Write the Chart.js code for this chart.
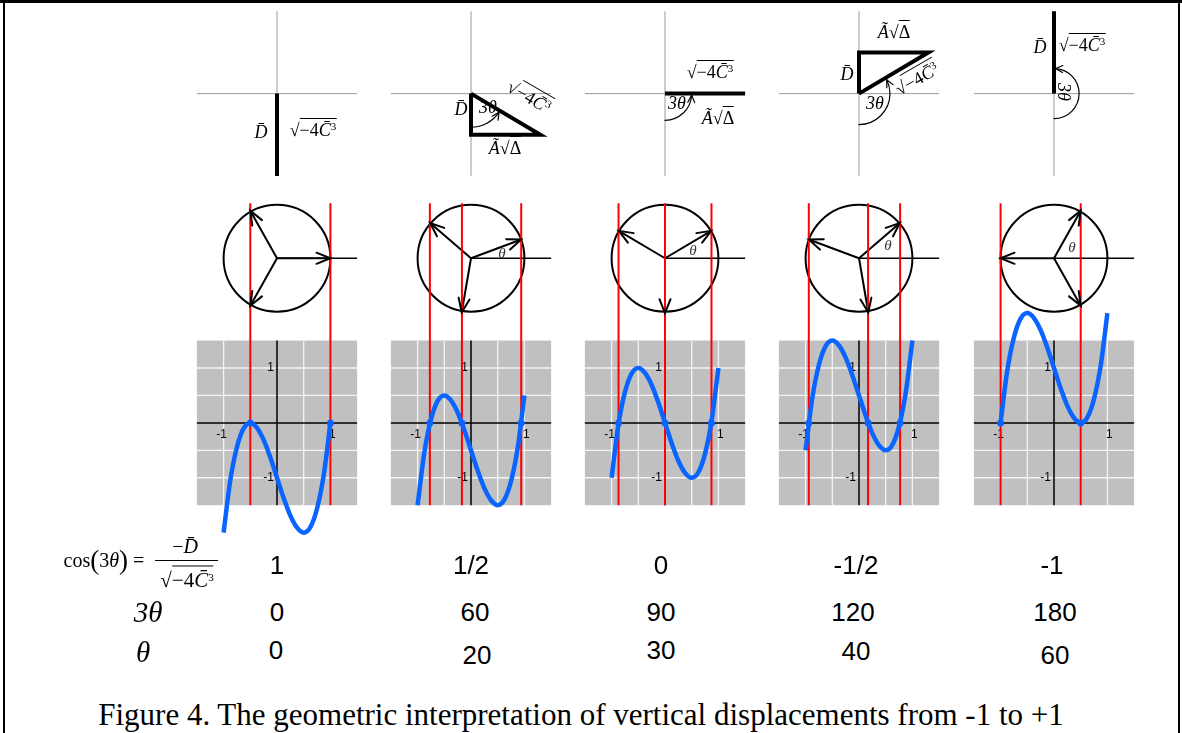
<!DOCTYPE html>
<html>
<head>
<meta charset="utf-8">
<script src="https://cdn.jsdelivr.net/npm/chart.js@4.4.1/dist/chart.umd.min.js"></script>
<style>
    html, body { margin: 0; padding: 0; background: #fff; }
    #fig { position: relative; width: 1182px; height: 733px; overflow: hidden; background: #fff; }
    #fig canvas { position: absolute; }
    .edge { position: absolute; background: #000; }
    .t { position: absolute; white-space: nowrap; line-height: 1; transform: translate(-50%, -50%); color: #000; }
    .m { font-family: 'Liberation Serif', 'Times New Roman', serif; font-size: 18px; }
    .rad { border-top: 1px solid #000; padding-top: 1px; }
    .sup { font-size: 11px; vertical-align: 6px; }
    .par { font-size: 27px; vertical-align: -2px; }
    .num { font-family: 'Liberation Sans', Arial, sans-serif; font-size: 26px; }
    .th { font-family: 'Liberation Serif', 'Times New Roman', serif; font-style: italic; font-size: 15px; color: #333; }
    .big { font-family: 'Liberation Serif', 'Times New Roman', serif; font-style: italic; font-size: 29px; }
    .cap { font-family: 'Liberation Serif', 'Times New Roman', serif; font-size: 31px; }
</style>
</head>
<body>
<div id="fig">
    <div class="edge" style="left:0;top:0;width:1182px;height:3px"></div>
    <div class="edge" style="left:3px;top:0;width:2px;height:733px"></div>
    <div class="edge" style="left:1178px;top:0;width:2px;height:733px"></div>
</div>
<script>
// values shown under each column
const cosLabels = ['1', '1/2', '0', '-1/2', '-1'];
const threeThetaDeg = [0, 60, 90, 120, 180];
const thetaDeg = [0, 20, 30, 40, 60];

// roots of each cubic (where the red lines and blue dots sit)
const roots1 = [-0.5, 1];
const roots2 = [-0.77, -0.17, 0.94];
const roots3 = [-0.87, 0, 0.87];
const roots4 = [-0.94, 0.17, 0.77];
const roots5 = [-1, 0.5];

const curveX = [-1, -0.875, -0.75, -0.625, -0.5, -0.375, -0.25, -0.125, 0, 0.125, 0.25, 0.375, 0.5, 0.625, 0.75, 0.875, 1];
const curve1 = [-2, -1.05, -0.44, -0.1, 0, -0.09, -0.31, -0.63, -1, -1.37, -1.69, -1.91, -2, -1.9, -1.56, -0.95, 0];
const curve2 = [-1.5, -0.55, 0.06, 0.4, 0.5, 0.41, 0.19, -0.13, -0.5, -0.87, -1.19, -1.41, -1.5, -1.4, -1.06, -0.45, 0.5];
const curve3 = [-1, -0.05, 0.56, 0.9, 1, 0.91, 0.69, 0.37, 0, -0.37, -0.69, -0.91, -1, -0.9, -0.56, 0.05, 1];
const curve4 = [-0.5, 0.45, 1.06, 1.4, 1.5, 1.41, 1.19, 0.87, 0.5, 0.13, -0.19, -0.41, -0.5, -0.4, -0.06, 0.55, 1.5];
const curve5 = [0, 0.95, 1.56, 1.9, 2, 1.91, 1.69, 1.37, 1, 0.63, 0.31, 0.09, 0, 0.1, 0.44, 1.05, 2];

const allRoots = [roots1, roots2, roots3, roots4, roots5];
const allCurves = [curve1, curve2, curve3, curve4, curve5];

// layout
const colCenter = [277, 471, 665, 859, 1054];
const arcRadius = [0, 0.63, 0.5, 0.58, 0.47];
const BLUE = '#0a64ff';
const fig = document.getElementById('fig');

function seg(points, color, width) {
    return { data: points, showLine: true, borderColor: color, borderWidth: width, pointRadius: 0, borderJoinStyle: 'miter' };
}

function arrowHead(ctx, x0, y0, x1, y1, len, ang) {
    const a = Math.atan2(y1 - y0, x1 - x0);
    ctx.beginPath();
    ctx.moveTo(x1 - len * Math.cos(a - ang), y1 - len * Math.sin(a - ang));
    ctx.lineTo(x1, y1);
    ctx.lineTo(x1 - len * Math.cos(a + ang), y1 - len * Math.sin(a + ang));
    ctx.stroke();
}

function figPlugin(i) {
    return {
        id: 'figure' + i,
        beforeDatasetsDraw(chart) {
            const { ctx, scales: { x, y } } = chart;
            const px = v => x.getPixelForValue(v);
            const py = v => y.getPixelForValue(v);
            ctx.save();
            // grey plot panel
            ctx.fillStyle = '#c0c0c0';
            ctx.fillRect(px(-1.5), py(1.5), px(1.5) - px(-1.5), py(-1.5) - py(1.5));
            ctx.strokeStyle = '#f4f4f4';
            ctx.lineWidth = 1.3;
            [-1, -0.5, 0.5, 1].forEach(g => {
                ctx.beginPath();
                ctx.moveTo(px(g), py(1.5)); ctx.lineTo(px(g), py(-1.5));
                ctx.moveTo(px(-1.5), py(g)); ctx.lineTo(px(1.5), py(g));
                ctx.stroke();
            });
            ctx.strokeStyle = '#000';
            ctx.lineWidth = 1.5;
            ctx.beginPath();
            ctx.moveTo(px(0), py(1.5)); ctx.lineTo(px(0), py(-1.5));
            ctx.moveTo(px(-1.5), py(0)); ctx.lineTo(px(1.5), py(0));
            ctx.stroke();
            ctx.fillStyle = '#000';
            ctx.font = '12px "Liberation Sans", Arial, sans-serif';
            ctx.textAlign = 'center';
            ctx.textBaseline = 'top';
            ctx.fillText('-1', px(-1) - 2, py(0) + 6);
            ctx.fillText('1', px(1) + 2, py(0) + 6);
            ctx.textAlign = 'right';
            ctx.textBaseline = 'middle';
            ctx.fillText('1', px(0) - 3, py(1));
            ctx.fillText('-1', px(0) - 3, py(-1));
            // unit circle
            ctx.lineWidth = 2;
            ctx.beginPath();
            ctx.arc(px(0), py(3), px(1) - px(0), 0, Math.PI * 2);
            ctx.stroke();
            ctx.restore();
        },
        afterDatasetsDraw(chart) {
            const { ctx, scales: { x, y } } = chart;
            const px = v => x.getPixelForValue(v);
            const py = v => y.getPixelForValue(v);
            ctx.save();
            ctx.strokeStyle = '#000';
            ctx.lineWidth = 2;
            ctx.lineCap = 'round';
            // arrow heads on the circle vectors
            for (let k = 0; k < 3; k++) {
                const a = (thetaDeg[i] + 120 * k) * Math.PI / 180;
                arrowHead(ctx, px(0), py(3), px(Math.cos(a)), py(3 + Math.sin(a)), 15, 0.38);
            }
            // 3θ arc in the top diagram
            const t3 = threeThetaDeg[i] * Math.PI / 180;
            if (t3 > 0) {
                const cx = px(0), cy = py(6), r = (px(1) - px(0)) * arcRadius[i];
                const e = Math.PI / 2 - t3 + 0.06;
                ctx.lineWidth = 1.2;
                ctx.beginPath();
                ctx.arc(cx, cy, r, Math.PI / 2, e, true);
                ctx.stroke();
                const ex = cx + r * Math.cos(e), ey = cy + r * Math.sin(e);
                const dx = Math.sin(e), dy = -Math.cos(e);
                arrowHead(ctx, ex - dx * 5, ey - dy * 5, ex, ey, 8, 0.45);
            }
            ctx.restore();
        }
    };
}

colCenter.forEach((cx, i) => {
    const canvas = document.createElement('canvas');
    canvas.width = 196;
    canvas.height = 548;
    canvas.style.left = (cx - 98) + 'px';
    canvas.style.top = '4px';
    fig.appendChild(canvas);

    const datasets = [];
    datasets.push({
        data: curveX.map((xv, k) => ({ x: xv, y: allCurves[i][k] })),
        showLine: true, borderColor: BLUE, borderWidth: 4.5, pointRadius: 0,
        cubicInterpolationMode: 'monotone', borderCapStyle: 'butt'
    });
    datasets.push({
        data: allRoots[i].map(r => ({ x: r, y: 0 })),
        showLine: false, pointRadius: 3.5, backgroundColor: BLUE, borderWidth: 0
    });
    allRoots[i].forEach(r => datasets.push(seg([{ x: r, y: -1.5 }, { x: r, y: 4 }], '#ff0000', 2)));
    for (let k = 0; k < 3; k++) {
        const a = (thetaDeg[i] + 120 * k) * Math.PI / 180;
        datasets.push(seg([{ x: 0, y: 3 }, { x: Math.cos(a), y: 3 + Math.sin(a) }], '#000', 2));
    }
    datasets.push(seg([{ x: 0, y: 3 }, { x: 1.5, y: 3 }], '#000', 1.5));
    // triangle: hypotenuse of length 1.5 turned 3θ away from straight down
    const t3 = threeThetaDeg[i] * Math.PI / 180;
    const P = { x: 1.5 * Math.sin(t3), y: 6 - 1.5 * Math.cos(t3) };
    datasets.push(seg([{ x: 0, y: 6 }, { x: 0, y: P.y }, P, { x: 0, y: 6 }], '#000', 4));
    datasets.push(seg([{ x: -1.5, y: 6 }, { x: 1.5, y: 6 }], '#9a9a9a', 1));
    datasets.push(seg([{ x: 0, y: 4.5 }, { x: 0, y: 7.5 }], '#9a9a9a', 1));

    new Chart(canvas, {
        type: 'scatter',
        data: { datasets },
        options: {
            responsive: false,
            animation: false,
            events: [],
            layout: { padding: 0 },
            plugins: { legend: { display: false }, tooltip: { enabled: false } },
            scales: {
                x: { type: 'linear', min: -1.76, max: 1.76, display: false },
                y: { type: 'linear', min: -2.28, max: 7.56, display: false }
            }
        },
        plugins: [figPlugin(i)]
    });
});

// text labels
const SQ = '√<span class="rad">−4<i>C̄</i><span class="sup">3</span></span>';
const AD = '<i>Ã</i>√<span class="rad">Δ</span>';
const DB = '<i>D̄</i>';
const TT = '<i>3θ</i>';
const topLabels = [
    [261, 132, DB, 0], [313, 130, SQ, 0],
    [461, 109, DB, 0], [488, 107, TT, 0], [529, 97, SQ, 30], [505, 148, AD, 0],
    [710, 72, SQ, 0], [677, 103, TT, 0], [718, 118, AD, 0],
    [894, 32, AD, 0], [847, 74, DB, 0], [917, 79, SQ, -30], [875, 103, TT, 0],
    [1040, 47, DB, 0], [1082, 45, SQ, 0], [1064, 92, TT, 90]
];
const thetaPos = [null, [502, 253], [693, 250], [888, 245], [1072, 247]];
const row1X = [277, 471, 661, 856, 1052];
const row2X = [277, 475, 661, 853, 1055];
const row3X = [276, 477, 661, 856, 1055];
const row3Y = [650, 655, 650, 651, 655];

function addText(cls, x, y, html, rot, size) {
    const d = document.createElement('div');
    d.className = 't ' + cls;
    d.style.left = x + 'px';
    d.style.top = y + 'px';
    if (rot) d.style.transform = 'translate(-50%, -50%) rotate(' + rot + 'deg)';
    if (size) d.style.fontSize = size + 'px';
    d.innerHTML = html;
    fig.appendChild(d);
}

topLabels.forEach(([x, y, h, r]) => addText('m', x, y, h, r));
thetaPos.forEach(p => { if (p) addText('th', p[0], p[1], 'θ'); });
cosLabels.forEach((s, i) => addText('num', row1X[i], 565, s));
threeThetaDeg.forEach((v, i) => addText('num', row2X[i], 612, String(v)));
thetaDeg.forEach((v, i) => addText('num', row3X[i], row3Y[i], String(v)));

addText('m', 104, 560, 'cos<span class="par">(</span>3<i>θ</i><span class="par">)</span> =', 0, 20);
addText('m', 185, 546, '−' + DB, 0, 20);
addText('m', 187, 580, SQ, 0, 21);
const bar = document.createElement('div');
bar.className = 'edge';
bar.style.cssText = 'left:155px;top:560px;width:63px;height:1px';
fig.appendChild(bar);

addText('big', 148, 612, '3θ');
addText('big', 143, 652, 'θ');
addText('cap', 581, 714, 'Figure 4. The geometric interpretation of vertical displacements from -1 to +1');
</script>
</body>
</html>
